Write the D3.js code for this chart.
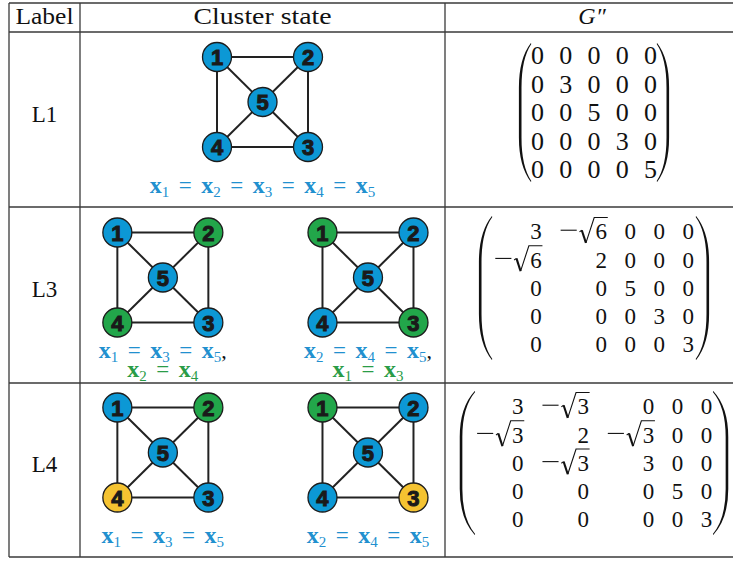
<!DOCTYPE html>
<html>
<head>
<meta charset="utf-8">
<script src="https://cdn.jsdelivr.net/npm/d3@7"></script>
<style>
  body { margin: 0; background: #fff; }
</style>
</head>
<body>
<svg id="chart" width="733" height="561"></svg>
<script>
// ---- data ----
const headerLabels = ["Label", "Cluster state", "G″"];
const rowLabels = ["L1", "L3", "L4"];
const nodeIds = [1, 2, 3, 4, 5];
const edges = [[1, 2], [2, 3], [3, 4], [4, 1], [1, 5], [2, 5], [3, 5], [4, 5]];

// one entry per drawn graph: table row, node colours (nodes 1..5), equalities
const stateRows = [0, 1, 1, 2, 2];
const nodeColors = ["bbbbb", "bgbgb", "gbgbb", "bgbyb", "gbybb"];
const equalities = [
  [[1, 2, 3, 4, 5]],
  [[1, 3, 5], [2, 4]],
  [[2, 4, 5], [1, 3]],
  [[1, 3, 5]],
  [[2, 4, 5]]
];

const matrixL1 = [
  ["0", "0", "0", "0", "0"],
  ["0", "3", "0", "0", "0"],
  ["0", "0", "5", "0", "0"],
  ["0", "0", "0", "3", "0"],
  ["0", "0", "0", "0", "5"]
];
const matrixL3 = [
  ["3", "-√6", "0", "0", "0"],
  ["-√6", "2", "0", "0", "0"],
  ["0", "0", "5", "0", "0"],
  ["0", "0", "0", "3", "0"],
  ["0", "0", "0", "0", "3"]
];
const matrixL4 = [
  ["3", "-√3", "0", "0", "0"],
  ["-√3", "2", "-√3", "0", "0"],
  ["0", "-√3", "3", "0", "0"],
  ["0", "0", "0", "5", "0"],
  ["0", "0", "0", "0", "3"]
];
const matrices = [matrixL1, matrixL3, matrixL4];

// ---- layout ----
const svg = d3.select("#chart");
const colX = [9, 80, 445, 745];
const rowY = [3, 32, 207, 383, 557];
const serif = "'Liberation Serif', 'Times New Roman', serif";

const nodeFill = { b: "#0c98d5", g: "#22a64a", y: "#f5c331" };
const eqColor = { b: "#2190cf", g: "#2a9c47" };

const rowCenter = r => (rowY[r + 1] + rowY[r + 2]) / 2;
const xCluster = d3.scaleLinear().domain([0, 1]).range([colX[1], colX[2]]);
const slotFrac = [0.5, 0.227, 0.789, 0.227, 0.789];
const nodeGrid = { 1: [-1, -1], 2: [1, -1], 3: [1, 1], 4: [-1, 1], 5: [0, 0] };

// table rules
const grid = svg.append("g").attr("stroke", "#3a3a3a").attr("stroke-width", 1.3);
grid.selectAll("line.h")
  .data(rowY)
  .join("line")
  .attr("class", "h")
  .attr("x1", colX[0]).attr("x2", colX[3])
  .attr("y1", d => d).attr("y2", d => d);
grid.selectAll("line.v")
  .data(colX.slice(0, 3))
  .join("line")
  .attr("class", "v")
  .attr("x1", d => d).attr("x2", d => d)
  .attr("y1", rowY[0]).attr("y2", rowY[4]);

// header
const headerX = [(colX[0] + colX[1]) / 2, (colX[1] + colX[2]) / 2, 592];
svg.append("g").selectAll("text")
  .data(headerLabels)
  .join("text")
  .attr("x", (d, i) => headerX[i])
  .attr("y", 24)
  .attr("text-anchor", "middle")
  .attr("font-family", serif)
  .attr("font-size", 24)
  .attr("font-style", (d, i) => i === 2 ? "italic" : null)
  .attr("textLength", (d, i) => i === 0 ? 58 : (i === 1 ? 138 : null))
  .attr("lengthAdjust", "spacingAndGlyphs")
  .attr("fill", "#111")
  .text(d => d);

// row labels
svg.append("g").selectAll("text")
  .data(rowLabels)
  .join("text")
  .attr("x", headerX[0])
  .attr("y", (d, i) => rowCenter(i) + 2)
  .attr("text-anchor", "middle")
  .attr("font-family", serif)
  .attr("font-size", 23)
  .attr("fill", "#111")
  .text(d => d);

// ---- graphs ----
function drawEquation(g, ids, color, x, y, comma) {
  const t = g.append("text")
    .attr("x", x).attr("y", y)
    .attr("text-anchor", "middle")
    .attr("font-family", serif)
    .attr("fill", color);
  ids.forEach(function(id, k) {
    if (k > 0) {
      t.append("tspan").attr("dx", 9.5).attr("dy", -4).attr("font-size", 23).text("=");
    }
    t.append("tspan").attr("dx", k > 0 ? 9.5 : 0).attr("font-size", 24)
      .attr("font-weight", "bold").text("x");
    t.append("tspan").attr("dy", 4).attr("font-size", 15).text(id);
  });
  if (comma) {
    t.append("tspan").attr("dy", -4).attr("font-size", 22).attr("fill", "#111").text(",");
  }
}

stateRows.forEach(function(row, i) {
  const cx = xCluster(slotFrac[i]);
  const cy = rowCenter(row) - 17.5;
  const sx = d3.scaleLinear().domain([-1, 1]).range([cx - 45.5, cx + 45.5]);
  const sy = d3.scaleLinear().domain([-1, 1]).range([cy - 45, cy + 45]);
  const g = svg.append("g").attr("class", "graph");

  g.selectAll("line")
    .data(edges)
    .join("line")
    .attr("x1", d => sx(nodeGrid[d[0]][0])).attr("y1", d => sy(nodeGrid[d[0]][1]))
    .attr("x2", d => sx(nodeGrid[d[1]][0])).attr("y2", d => sy(nodeGrid[d[1]][1]))
    .attr("stroke", "#222")
    .attr("stroke-width", 2);

  g.selectAll("circle")
    .data(nodeIds)
    .join("circle")
    .attr("cx", d => sx(nodeGrid[d][0]))
    .attr("cy", d => sy(nodeGrid[d][1]))
    .attr("r", 14.5)
    .attr("fill", d => nodeFill[nodeColors[i][d - 1]])
    .attr("stroke", "#1c1c1c")
    .attr("stroke-width", 1.3);

  g.selectAll("text.num")
    .data(nodeIds)
    .join("text")
    .attr("class", "num")
    .attr("x", d => sx(nodeGrid[d][0]))
    .attr("y", d => sy(nodeGrid[d][1]) + 8)
    .attr("text-anchor", "middle")
    .attr("font-family", "'Liberation Sans', Arial, sans-serif")
    .attr("font-weight", "bold")
    .attr("font-size", 22)
    .attr("fill", "#1a1a1a")
    .attr("stroke", "#1a1a1a")
    .attr("stroke-width", 1)
    .text(d => d);

  const lines = equalities[i];
  lines.forEach(function(ids, k) {
    const col = eqColor[nodeColors[i][ids[0] - 1]];
    const y = lines.length === 1 ? cy + 90.5 : cy + 80 + k * 19;
    drawEquation(g, ids, col, cx, y, k < lines.length - 1);
  });
});

// ---- matrices ----
function measure(str, fs) {
  const t = svg.append("text").attr("font-family", serif).attr("font-size", fs).text(str);
  const w = t.node().getComputedTextLength();
  t.remove();
  return w;
}

function parenPath(tip, ext, top, bottom, thick) {
  const s = tip > ext ? 1 : -1;
  const bend = (bottom - top) * 0.32;
  const inner = ext + s * thick;
  const p = d3.path();
  p.moveTo(tip, top);
  p.quadraticCurveTo(ext, top + bend * 0.35, ext, top + bend);
  p.lineTo(ext, bottom - bend);
  p.quadraticCurveTo(ext, bottom - bend * 0.35, tip, bottom);
  p.lineTo(tip + s * 0.4, bottom - 1);
  p.quadraticCurveTo(inner, bottom - bend * 0.35, inner, bottom - bend);
  p.lineTo(inner, top + bend);
  p.quadraticCurveTo(inner, top + bend * 0.35, tip + s * 0.4, top + 1);
  p.closePath();
  return p.toString();
}

function drawMatrix(rows, o) {
  const g = svg.append("g").attr("class", "matrix");
  const f = o.fs;
  const minusW = 0.76 * f, minusGap = 0.1 * f, radW = 0.72 * f;
  const cellW = rows.map(r => r.map(function(c) {
    const neg = c.startsWith("-√");
    const dw = measure(neg ? c.slice(2) : c, f);
    return neg ? dw + minusW + minusGap + radW : dw;
  }));
  const nCol = rows[0].length;
  const colW = d3.range(nCol).map(j => d3.max(cellW, r => r[j]));
  const total = d3.sum(colW) + o.gap * (nCol - 1);
  const left = o.cx - total / 2;
  const colRight = colW.map((w, j) => left + d3.sum(colW.slice(0, j + 1)) + o.gap * j);
  const y = d3.scalePoint()
    .domain(d3.range(rows.length))
    .range([o.cy - o.step * (rows.length - 1) / 2, o.cy + o.step * (rows.length - 1) / 2]);

  rows.forEach(function(r, i) {
    const b = y(i) + 0.34 * f;
    r.forEach(function(c, j) {
      const R = colRight[j];
      const neg = c.startsWith("-√");
      const digit = neg ? c.slice(2) : c;
      g.append("text")
        .attr("x", R).attr("y", b)
        .attr("text-anchor", "end")
        .attr("font-family", serif)
        .attr("font-size", f)
        .attr("fill", "#111")
        .text(digit);
      if (neg) {
        const dw = measure(digit, f);
        const rx = R - dw - radW;
        const top = b - 0.95 * f;
        // radical sign and bar
        g.append("path")
          .attr("d", d3.line()([[rx + 0.02 * f, b - 0.33 * f], [rx + 0.12 * f, b - 0.4 * f]]))
          .attr("stroke", "#111").attr("stroke-width", 1.1).attr("fill", "none");
        g.append("path")
          .attr("d", d3.line()([[rx + 0.12 * f, b - 0.4 * f], [rx + 0.3 * f, b + 0.15 * f]]))
          .attr("stroke", "#111").attr("stroke-width", 2.1).attr("fill", "none");
        g.append("path")
          .attr("d", d3.line()([[rx + 0.3 * f, b + 0.15 * f], [rx + 0.66 * f, top], [R + 0.03 * f, top]]))
          .attr("stroke", "#111").attr("stroke-width", 1.1).attr("fill", "none")
          .attr("stroke-linejoin", "miter");
        // minus
        g.append("line")
          .attr("x1", rx - minusGap - minusW + 0.06 * f).attr("x2", rx - minusGap)
          .attr("y1", b - 0.4 * f).attr("y2", b - 0.4 * f)
          .attr("stroke", "#111").attr("stroke-width", 1.1);
      }
    });
  });

  const top = y(0) - o.ext, bottom = y(rows.length - 1) + o.ext;
  const lx = left - o.pad, rxp = left + total + o.pad;
  g.append("path").attr("d", parenPath(lx + o.pw, lx, top, bottom, 2.6)).attr("fill", "#111");
  g.append("path").attr("d", parenPath(rxp - o.pw, rxp, top, bottom, 2.6)).attr("fill", "#111");
}

const matrixOpts = [
  { cx: 594, fs: 26, gap: 15.3, step: 28.5, ext: 12.5, pad: 12, pw: 12 },
  { cx: 594, fs: 23, gap: 17.5, step: 28.2, ext: 15.5, pad: 15, pw: 13 },
  { cx: 594, fs: 23, gap: 17.5, step: 28.2, ext: 15.5, pad: 16, pw: 15 }
];
matrices.forEach(function(m, r) {
  const o = Object.assign({ cy: rowCenter(r) - 7 }, matrixOpts[r]);
  drawMatrix(m, o);
});
</script>
</body>
</html>
